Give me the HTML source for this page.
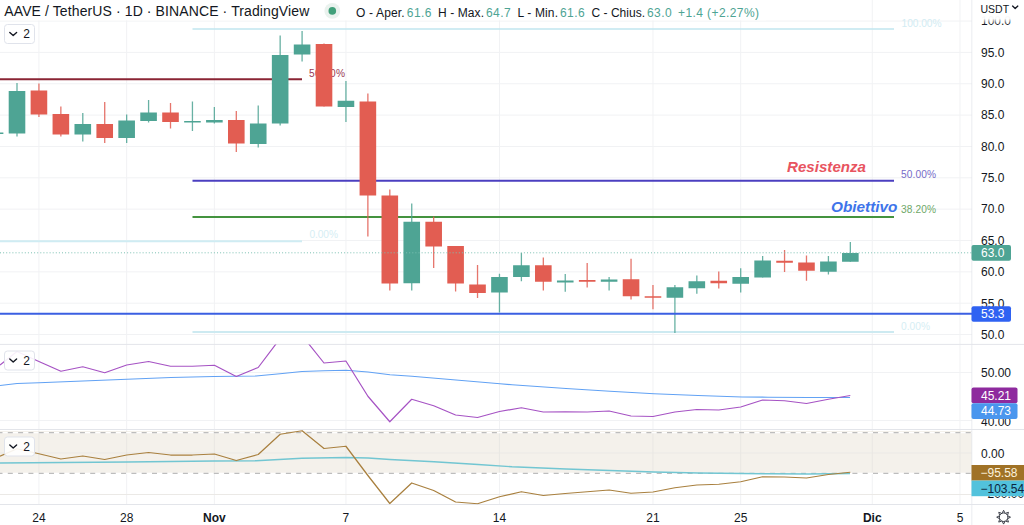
<!DOCTYPE html>
<html lang="it"><head><meta charset="utf-8"><title>AAVE / TetherUS · 1D · BINANCE · TradingView</title>
<style>html,body{margin:0;padding:0;background:#fff;}body{width:1024px;height:525px;overflow:hidden;font-family:"Liberation Sans", Arial, sans-serif;}svg{display:block;position:absolute;left:0;top:0;}text{font-family:"Liberation Sans", Arial, sans-serif;}</style></head><body>
<svg width="1024" height="525" viewBox="0 0 1024 525">
<defs>
<clipPath id="cpMain"><rect x="0" y="0" width="972" height="344"/></clipPath>
<clipPath id="cpRsi"><rect x="0" y="344.5" width="972" height="85"/></clipPath>
<clipPath id="cpCci"><rect x="0" y="430" width="972" height="74.5"/></clipPath>
<linearGradient id="fade" x1="0" y1="0" x2="0" y2="1"><stop offset="0" stop-color="#fff" stop-opacity="1"/><stop offset="0.45" stop-color="#fff" stop-opacity="0.95"/><stop offset="1" stop-color="#fff" stop-opacity="0"/></linearGradient>
</defs>
<rect width="1024" height="525" fill="#ffffff"/>
<line x1="38.93" y1="0" x2="38.93" y2="504.5" stroke="#f1f2f4" stroke-width="1"/>
<line x1="126.65" y1="0" x2="126.65" y2="504.5" stroke="#f1f2f4" stroke-width="1"/>
<line x1="214.37" y1="0" x2="214.37" y2="504.5" stroke="#f1f2f4" stroke-width="1"/>
<line x1="345.95" y1="0" x2="345.95" y2="504.5" stroke="#f1f2f4" stroke-width="1"/>
<line x1="499.46" y1="0" x2="499.46" y2="504.5" stroke="#f1f2f4" stroke-width="1"/>
<line x1="652.97" y1="0" x2="652.97" y2="504.5" stroke="#f1f2f4" stroke-width="1"/>
<line x1="740.69" y1="0" x2="740.69" y2="504.5" stroke="#f1f2f4" stroke-width="1"/>
<line x1="872.27" y1="0" x2="872.27" y2="504.5" stroke="#f1f2f4" stroke-width="1"/>
<line x1="959.99" y1="0" x2="959.99" y2="504.5" stroke="#f1f2f4" stroke-width="1"/>
<line x1="0" y1="21.05" x2="972" y2="21.05" stroke="#f1f2f4" stroke-width="1"/>
<line x1="0" y1="52.40" x2="972" y2="52.40" stroke="#f1f2f4" stroke-width="1"/>
<line x1="0" y1="83.75" x2="972" y2="83.75" stroke="#f1f2f4" stroke-width="1"/>
<line x1="0" y1="115.10" x2="972" y2="115.10" stroke="#f1f2f4" stroke-width="1"/>
<line x1="0" y1="146.45" x2="972" y2="146.45" stroke="#f1f2f4" stroke-width="1"/>
<line x1="0" y1="177.80" x2="972" y2="177.80" stroke="#f1f2f4" stroke-width="1"/>
<line x1="0" y1="209.15" x2="972" y2="209.15" stroke="#f1f2f4" stroke-width="1"/>
<line x1="0" y1="240.50" x2="972" y2="240.50" stroke="#f1f2f4" stroke-width="1"/>
<line x1="0" y1="271.85" x2="972" y2="271.85" stroke="#f1f2f4" stroke-width="1"/>
<line x1="0" y1="303.20" x2="972" y2="303.20" stroke="#f1f2f4" stroke-width="1"/>
<line x1="0" y1="334.55" x2="972" y2="334.55" stroke="#f1f2f4" stroke-width="1"/>
<line x1="0" y1="372.5" x2="972" y2="372.5" stroke="#f1f2f4" stroke-width="1"/>
<line x1="0" y1="420.5" x2="972" y2="420.5" stroke="#f1f2f4" stroke-width="1"/>
<rect x="0" y="431" width="972" height="43" fill="#f4f1eb"/>
<line x1="0" y1="453" x2="972" y2="453" stroke="#ebe9e6" stroke-width="1"/>
<line x1="0" y1="494.5" x2="972" y2="494.5" stroke="#ebe9e6" stroke-width="1"/>
<line x1="38.93" y1="431" x2="38.93" y2="474" stroke="#e9e7e3" stroke-width="1"/>
<line x1="126.65" y1="431" x2="126.65" y2="474" stroke="#e9e7e3" stroke-width="1"/>
<line x1="214.37" y1="431" x2="214.37" y2="474" stroke="#e9e7e3" stroke-width="1"/>
<line x1="345.95" y1="431" x2="345.95" y2="474" stroke="#e9e7e3" stroke-width="1"/>
<line x1="499.46" y1="431" x2="499.46" y2="474" stroke="#e9e7e3" stroke-width="1"/>
<line x1="652.97" y1="431" x2="652.97" y2="474" stroke="#e9e7e3" stroke-width="1"/>
<line x1="740.69" y1="431" x2="740.69" y2="474" stroke="#e9e7e3" stroke-width="1"/>
<line x1="872.27" y1="431" x2="872.27" y2="474" stroke="#e9e7e3" stroke-width="1"/>
<line x1="959.99" y1="431" x2="959.99" y2="474" stroke="#e9e7e3" stroke-width="1"/>
<line x1="0" y1="432.6" x2="972" y2="432.6" stroke="#fff" stroke-width="1.2"/>
<line x1="0" y1="473.4" x2="972" y2="473.4" stroke="#fff" stroke-width="1.2"/>
<line x1="-2.5" y1="432.6" x2="972" y2="432.6" stroke="#bdbdbd" stroke-width="1.1" stroke-dasharray="5,5.3"/>
<line x1="-2.5" y1="473.4" x2="972" y2="473.4" stroke="#bdbdbd" stroke-width="1.1" stroke-dasharray="5,5.3"/>
<line x1="0" y1="344.4" x2="1024" y2="344.4" stroke="#e3e5ea" stroke-width="1"/>
<line x1="0" y1="429.5" x2="1024" y2="429.5" stroke="#e3e5ea" stroke-width="1"/>
<line x1="0" y1="504.5" x2="1024" y2="504.5" stroke="#e3e5ea" stroke-width="1"/>
<line x1="972" y1="0" x2="972" y2="525" stroke="#e3e5ea" stroke-width="1"/>
<g clip-path="url(#cpMain)">
<line x1="192.5" y1="29" x2="894" y2="29" stroke="#c0e6ef" stroke-width="1.7"/>
<line x1="0" y1="79.2" x2="302" y2="79.2" stroke="#8a2434" stroke-width="2"/>
<line x1="0" y1="241.2" x2="302" y2="241.2" stroke="#cfecf3" stroke-width="2"/>
<line x1="192.5" y1="332" x2="894" y2="332" stroke="#cdeaf1" stroke-width="2"/>
<line x1="192.5" y1="180.8" x2="894" y2="180.8" stroke="#4b3fc0" stroke-width="2"/>
<line x1="192.5" y1="217" x2="894" y2="217" stroke="#44933f" stroke-width="2"/>
<text x="309" y="76.5" font-size="10.2" fill="#9a3a55" textLength="36" lengthAdjust="spacing">50.00%</text>
<text x="309.5" y="238.2" font-size="10.2" fill="#d6eef4" textLength="28.5" lengthAdjust="spacing">0.00%</text>
<text x="901.5" y="26.7" font-size="10.2" fill="#d2ecf3" textLength="40" lengthAdjust="spacing">100.00%</text>
<text x="901" y="178.1" font-size="10.2" fill="#766bc8" textLength="35" lengthAdjust="spacing">50.00%</text>
<text x="901" y="213.4" font-size="10.2" fill="#6fa868" textLength="35" lengthAdjust="spacing">38.20%</text>
<text x="901" y="329.8" font-size="10.2" fill="#d6eef4" textLength="29" lengthAdjust="spacing">0.00%</text>
<line x1="-4.93" y1="132.5" x2="-4.93" y2="134" stroke="#4ea494" stroke-width="1.3" opacity="0.85"/>
<rect x="-13.23" y="132.5" width="16.6" height="1.50" fill="#4ea494"/>
<line x1="17.00" y1="83" x2="17.00" y2="136.5" stroke="#4ea494" stroke-width="1.3" opacity="0.85"/>
<rect x="8.70" y="91" width="16.6" height="42.50" fill="#4ea494"/>
<line x1="38.93" y1="83.5" x2="38.93" y2="117" stroke="#e25d52" stroke-width="1.3" opacity="0.85"/>
<rect x="30.63" y="90.5" width="16.6" height="24.00" fill="#e25d52"/>
<line x1="60.86" y1="106.5" x2="60.86" y2="136.5" stroke="#e25d52" stroke-width="1.3" opacity="0.85"/>
<rect x="52.56" y="114" width="16.6" height="20.50" fill="#e25d52"/>
<line x1="82.79" y1="113" x2="82.79" y2="141.5" stroke="#4ea494" stroke-width="1.3" opacity="0.85"/>
<rect x="74.49" y="124" width="16.6" height="10.50" fill="#4ea494"/>
<line x1="104.72" y1="102" x2="104.72" y2="143" stroke="#e25d52" stroke-width="1.3" opacity="0.85"/>
<rect x="96.42" y="124" width="16.6" height="14.00" fill="#e25d52"/>
<line x1="126.65" y1="114.5" x2="126.65" y2="143" stroke="#4ea494" stroke-width="1.3" opacity="0.85"/>
<rect x="118.35" y="120.5" width="16.6" height="17.50" fill="#4ea494"/>
<line x1="148.58" y1="100" x2="148.58" y2="122.5" stroke="#4ea494" stroke-width="1.3" opacity="0.85"/>
<rect x="140.28" y="112.5" width="16.6" height="8.50" fill="#4ea494"/>
<line x1="170.51" y1="103" x2="170.51" y2="128.5" stroke="#e25d52" stroke-width="1.3" opacity="0.85"/>
<rect x="162.21" y="112.5" width="16.6" height="9.50" fill="#e25d52"/>
<line x1="192.44" y1="101.5" x2="192.44" y2="131" stroke="#4ea494" stroke-width="1.3" opacity="0.85"/>
<rect x="184.14" y="121" width="16.6" height="1.50" fill="#4ea494"/>
<line x1="214.37" y1="107" x2="214.37" y2="123.5" stroke="#4ea494" stroke-width="1.3" opacity="0.85"/>
<rect x="206.07" y="120" width="16.6" height="2.50" fill="#4ea494"/>
<line x1="236.30" y1="111" x2="236.30" y2="152" stroke="#e25d52" stroke-width="1.3" opacity="0.85"/>
<rect x="228.00" y="120" width="16.6" height="23.50" fill="#e25d52"/>
<line x1="258.23" y1="105.5" x2="258.23" y2="147.5" stroke="#4ea494" stroke-width="1.3" opacity="0.85"/>
<rect x="249.93" y="123.5" width="16.6" height="20.50" fill="#4ea494"/>
<line x1="280.16" y1="35.5" x2="280.16" y2="125.5" stroke="#4ea494" stroke-width="1.3" opacity="0.85"/>
<rect x="271.86" y="55" width="16.6" height="68.50" fill="#4ea494"/>
<line x1="302.09" y1="31" x2="302.09" y2="61.5" stroke="#4ea494" stroke-width="1.3" opacity="0.85"/>
<rect x="293.79" y="44.5" width="16.6" height="10.00" fill="#4ea494"/>
<line x1="324.02" y1="43.5" x2="324.02" y2="106.5" stroke="#e25d52" stroke-width="1.3" opacity="0.85"/>
<rect x="315.72" y="44" width="16.6" height="62.50" fill="#e25d52"/>
<line x1="345.95" y1="81" x2="345.95" y2="122" stroke="#4ea494" stroke-width="1.3" opacity="0.85"/>
<rect x="337.65" y="100.75" width="16.6" height="6.25" fill="#4ea494"/>
<line x1="367.88" y1="93.5" x2="367.88" y2="236.5" stroke="#e25d52" stroke-width="1.3" opacity="0.85"/>
<rect x="359.58" y="101.5" width="16.6" height="94.00" fill="#e25d52"/>
<line x1="389.81" y1="189.5" x2="389.81" y2="290.5" stroke="#e25d52" stroke-width="1.3" opacity="0.85"/>
<rect x="381.51" y="195.5" width="16.6" height="88.00" fill="#e25d52"/>
<line x1="411.74" y1="203.5" x2="411.74" y2="290.5" stroke="#4ea494" stroke-width="1.3" opacity="0.85"/>
<rect x="403.44" y="221.75" width="16.6" height="61.50" fill="#4ea494"/>
<line x1="433.67" y1="216.5" x2="433.67" y2="268" stroke="#e25d52" stroke-width="1.3" opacity="0.85"/>
<rect x="425.37" y="221.75" width="16.6" height="24.75" fill="#e25d52"/>
<line x1="455.60" y1="246" x2="455.60" y2="291.5" stroke="#e25d52" stroke-width="1.3" opacity="0.85"/>
<rect x="447.30" y="246" width="16.6" height="37.50" fill="#e25d52"/>
<line x1="477.53" y1="265" x2="477.53" y2="298" stroke="#e25d52" stroke-width="1.3" opacity="0.85"/>
<rect x="469.23" y="284.5" width="16.6" height="8.50" fill="#e25d52"/>
<line x1="499.46" y1="273.75" x2="499.46" y2="312.5" stroke="#4ea494" stroke-width="1.3" opacity="0.85"/>
<rect x="491.16" y="277" width="16.6" height="15.50" fill="#4ea494"/>
<line x1="521.39" y1="253" x2="521.39" y2="281.25" stroke="#4ea494" stroke-width="1.3" opacity="0.85"/>
<rect x="513.09" y="265.25" width="16.6" height="11.75" fill="#4ea494"/>
<line x1="543.32" y1="257.5" x2="543.32" y2="290.5" stroke="#e25d52" stroke-width="1.3" opacity="0.85"/>
<rect x="535.02" y="265.25" width="16.6" height="16.50" fill="#e25d52"/>
<line x1="565.25" y1="274" x2="565.25" y2="291.75" stroke="#4ea494" stroke-width="1.3" opacity="0.85"/>
<rect x="556.95" y="280.5" width="16.6" height="2.00" fill="#4ea494"/>
<line x1="587.18" y1="263" x2="587.18" y2="287.5" stroke="#e25d52" stroke-width="1.3" opacity="0.85"/>
<rect x="578.88" y="280" width="16.6" height="1.75" fill="#e25d52"/>
<line x1="609.11" y1="277" x2="609.11" y2="290.5" stroke="#4ea494" stroke-width="1.3" opacity="0.85"/>
<rect x="600.81" y="279.5" width="16.6" height="2.25" fill="#4ea494"/>
<line x1="631.04" y1="258.75" x2="631.04" y2="299.5" stroke="#e25d52" stroke-width="1.3" opacity="0.85"/>
<rect x="622.74" y="279.25" width="16.6" height="17.00" fill="#e25d52"/>
<line x1="652.97" y1="285" x2="652.97" y2="309.25" stroke="#e25d52" stroke-width="1.3" opacity="0.85"/>
<rect x="644.67" y="296.25" width="16.6" height="1.50" fill="#e25d52"/>
<line x1="674.90" y1="285" x2="674.90" y2="333" stroke="#4ea494" stroke-width="1.3" opacity="0.85"/>
<rect x="666.60" y="287.25" width="16.6" height="10.50" fill="#4ea494"/>
<line x1="696.83" y1="275.5" x2="696.83" y2="293.75" stroke="#4ea494" stroke-width="1.3" opacity="0.85"/>
<rect x="688.53" y="281.25" width="16.6" height="7.00" fill="#4ea494"/>
<line x1="718.76" y1="271.5" x2="718.76" y2="288.5" stroke="#e25d52" stroke-width="1.3" opacity="0.85"/>
<rect x="710.46" y="280.75" width="16.6" height="2.50" fill="#e25d52"/>
<line x1="740.69" y1="268.25" x2="740.69" y2="292.5" stroke="#4ea494" stroke-width="1.3" opacity="0.85"/>
<rect x="732.39" y="277" width="16.6" height="6.75" fill="#4ea494"/>
<line x1="762.62" y1="256" x2="762.62" y2="277.5" stroke="#4ea494" stroke-width="1.3" opacity="0.85"/>
<rect x="754.32" y="260.5" width="16.6" height="17.00" fill="#4ea494"/>
<line x1="784.55" y1="250" x2="784.55" y2="272" stroke="#e25d52" stroke-width="1.3" opacity="0.85"/>
<rect x="776.25" y="260.75" width="16.6" height="2.00" fill="#e25d52"/>
<line x1="806.48" y1="255.5" x2="806.48" y2="280.75" stroke="#e25d52" stroke-width="1.3" opacity="0.85"/>
<rect x="798.18" y="262.5" width="16.6" height="8.25" fill="#e25d52"/>
<line x1="828.41" y1="256" x2="828.41" y2="274.5" stroke="#4ea494" stroke-width="1.3" opacity="0.85"/>
<rect x="820.11" y="261.5" width="16.6" height="10.25" fill="#4ea494"/>
<line x1="850.34" y1="242" x2="850.34" y2="261.75" stroke="#4ea494" stroke-width="1.3" opacity="0.85"/>
<rect x="842.04" y="253" width="16.6" height="8.75" fill="#4ea494"/>
<line x1="0" y1="252.8" x2="972" y2="252.8" stroke="#7cc0b3" stroke-width="1" stroke-dasharray="1,2.1"/>
<line x1="0" y1="313.8" x2="972" y2="313.8" stroke="#3b5fe2" stroke-width="2"/>
<text x="787" y="171.6" font-size="15" font-weight="bold" font-style="italic" fill="#e8545f" textLength="79" lengthAdjust="spacingAndGlyphs">Resistenza</text>
<text x="831" y="211.6" font-size="15" font-weight="bold" font-style="italic" fill="#3e74ea" textLength="66.5" lengthAdjust="spacingAndGlyphs">Obiettivo</text>
</g>
<g clip-path="url(#cpRsi)">
<polyline points="0.0,385.50 17.0,383.50 39.0,382.75 83.0,381.00 127.0,379.25 171.0,377.50 214.0,376.50 256.0,376.00 280.0,373.75 302.0,371.50 324.0,370.75 346.0,370.25 368.0,372.00 390.0,374.75 412.0,376.25 456.0,380.00 500.0,383.75 512.0,384.75 566.0,388.50 610.0,391.25 654.0,393.75 698.0,395.50 742.0,397.00 768.0,397.25 808.0,397.50 850.0,397.50" fill="none" stroke="#62a2f4" stroke-width="1.2" stroke-linejoin="round"/>
<polyline points="0.0,365.00 17.0,351.50 38.9,361.50 60.9,371.25 82.8,366.75 104.7,372.75 126.7,365.00 148.6,361.50 170.5,366.25 192.4,366.25 214.4,365.25 236.3,376.50 258.2,367.50 280.2,338.40 302.1,335.60 324.0,363.00 345.9,361.00 367.9,396.25 389.8,421.75 411.7,399.25 433.7,405.75 455.6,415.00 477.5,417.50 499.5,411.50 521.4,407.75 543.3,412.00 565.2,411.75 587.2,412.00 609.1,411.00 631.0,416.00 653.0,416.50 674.9,412.00 696.8,409.50 718.8,410.00 740.7,407.00 762.6,400.00 784.5,400.75 806.5,403.50 828.4,399.25 850.3,395.50" fill="none" stroke="#a653c4" stroke-width="1.2" stroke-linejoin="round"/>
</g>
<g clip-path="url(#cpCci)">
<polyline points="0.0,463.00 127.0,462.00 214.0,461.00 256.0,460.75 302.0,458.25 346.0,457.50 368.0,458.00 390.0,459.50 434.0,461.75 478.0,464.50 512.0,466.75 566.0,469.00 610.0,470.50 654.0,472.00 698.0,473.00 742.0,473.50 768.0,473.75 808.0,474.00 850.0,473.50" fill="none" stroke="#72c6d2" stroke-width="1.4" stroke-linejoin="round"/>
<polyline points="0.0,456.25 17.0,448.75 38.9,453.75 60.9,459.00 82.8,456.00 104.7,459.50 126.7,455.00 148.6,452.50 170.5,455.00 192.4,455.00 214.4,454.00 236.3,460.50 258.2,454.50 280.2,434.25 302.1,430.75 324.0,448.50 345.9,446.25 367.9,475.50 389.8,503.50 411.7,483.00 433.7,490.50 455.6,502.00 477.5,503.75 499.5,496.75 521.4,491.75 543.3,495.50 565.2,493.50 587.2,491.75 609.1,490.00 631.0,493.25 653.0,492.00 674.9,487.75 696.8,485.00 718.8,484.25 740.7,481.75 762.6,476.75 784.5,477.00 806.5,478.00 828.4,474.50 850.3,472.25" fill="none" stroke="#a9803f" stroke-width="1.25" stroke-linejoin="round"/>
</g>
<rect x="972.5" y="0" width="51.5" height="525" fill="#fff"/>
<line x1="972" y1="344.4" x2="1024" y2="344.4" stroke="#e3e5ea" stroke-width="1"/>
<line x1="972" y1="429.5" x2="1024" y2="429.5" stroke="#e3e5ea" stroke-width="1"/>
<line x1="972" y1="504.5" x2="1024" y2="504.5" stroke="#e3e5ea" stroke-width="1"/>
<text x="981" y="25.35" font-size="12" fill="#131722" >100.0</text>
<text x="981" y="56.70" font-size="12" fill="#131722" >95.0</text>
<text x="981" y="88.05" font-size="12" fill="#131722" >90.0</text>
<text x="981" y="119.40" font-size="12" fill="#131722" >85.0</text>
<text x="981" y="150.75" font-size="12" fill="#131722" >80.0</text>
<text x="981" y="182.10" font-size="12" fill="#131722" >75.0</text>
<text x="981" y="213.45" font-size="12" fill="#131722" >70.0</text>
<text x="981" y="244.80" font-size="12" fill="#131722" >65.0</text>
<text x="981" y="276.15" font-size="12" fill="#131722" >60.0</text>
<text x="981" y="307.50" font-size="12" fill="#131722" >55.0</text>
<text x="981" y="338.85" font-size="12" fill="#131722" >50.0</text>
<rect x="973" y="0" width="51" height="14" fill="#fff"/>
<rect x="973" y="14" width="51" height="10" fill="url(#fade)"/>
<text x="980.5" y="12.6" font-size="11" fill="#131722" textLength="28.6" lengthAdjust="spacingAndGlyphs">USDT</text>
<path d="M1012.6 6.1 L1015.2 8.4 L1017.8 6.1" fill="none" stroke="#131722" stroke-width="1.4" stroke-linecap="round" stroke-linejoin="round"/>
<rect x="971.5" y="245" width="39.5" height="15.8" rx="2" fill="#4ea494"/>
<text x="981" y="257.20" font-size="12" fill="#fff" >63.0</text>
<rect x="971.5" y="306.2" width="39.5" height="15.5" rx="2" fill="#2f62f2"/>
<text x="981" y="318.20" font-size="12" fill="#fff" >53.3</text>
<text x="981" y="377.10" font-size="12" fill="#131722" >50.00</text>
<text x="981" y="425.60" font-size="12" fill="#131722" >40.00</text>
<rect x="971.5" y="387.5" width="46" height="15.7" rx="2" fill="#8e2a9e"/>
<text x="981" y="399.60" font-size="12" fill="#fff" >45.21</text>
<rect x="971.5" y="403.2" width="46" height="15.8" rx="2" fill="#4a96ee"/>
<text x="981" y="415.40" font-size="12" fill="#fff" >44.73</text>
<text x="981" y="457.70" font-size="12" fill="#131722" >0.00</text>
<text x="980.5" y="498.30" font-size="12" fill="#131722" >−200.00</text>
<rect x="971.5" y="465" width="52.5" height="15.6" fill="#a07226"/>
<text x="980.5" y="477.10" font-size="12" fill="#fbf1dc" >−95.58</text>
<rect x="971.5" y="480.6" width="52.5" height="15.6" fill="#52c2dc"/>
<text x="980.5" y="492.70" font-size="12" fill="#0b2540" >−103.54</text>
<text x="38.93" y="522.3" font-size="12" fill="#131722" text-anchor="middle">24</text>
<text x="126.65" y="522.3" font-size="12" fill="#131722" text-anchor="middle">28</text>
<text x="214.37" y="522.3" font-size="12" fill="#131722" text-anchor="middle" font-weight="bold">Nov</text>
<text x="345.95" y="522.3" font-size="12" fill="#131722" text-anchor="middle">7</text>
<text x="499.46" y="522.3" font-size="12" fill="#131722" text-anchor="middle">14</text>
<text x="652.97" y="522.3" font-size="12" fill="#131722" text-anchor="middle">21</text>
<text x="740.69" y="522.3" font-size="12" fill="#131722" text-anchor="middle">25</text>
<text x="872.27" y="522.3" font-size="12" fill="#131722" text-anchor="middle" font-weight="bold">Dic</text>
<text x="959.99" y="522.3" font-size="12" fill="#131722" text-anchor="middle">5</text>
<circle cx="1003.6" cy="517.2" r="4.3" fill="none" stroke="#2a2e39" stroke-width="1.0"/>
<path d="M1008.02 515.93 L1010.50 517.20 L1008.02 518.47 M1007.62 519.43 L1008.48 522.08 L1005.83 521.22 M1004.87 521.62 L1003.60 524.10 L1002.33 521.62 M1001.37 521.22 L998.72 522.08 L999.58 519.43 M999.18 518.47 L996.70 517.20 L999.18 515.93 M999.58 514.97 L998.72 512.32 L1001.37 513.18 M1002.33 512.78 L1003.60 510.30 L1004.87 512.78 M1005.83 513.18 L1008.48 512.32 L1007.62 514.97" fill="none" stroke="#2a2e39" stroke-width="0.9" stroke-linejoin="round"/>
<rect x="0" y="0" width="766" height="20.3" fill="#fff"/>
<text x="4.3" y="16.3" font-size="14" fill="#131722" textLength="305" lengthAdjust="spacing">AAVE / TetherUS · 1D · BINANCE · TradingView</text>
<circle cx="332.3" cy="10.9" r="7.9" fill="#eaf2ee"/>
<circle cx="332.3" cy="10.9" r="3.8" fill="#41a07a"/>
<text x="356" y="17.1" font-size="12" fill="#131722" textLength="48.7" lengthAdjust="spacing">O - Aper.</text>
<text x="406.8" y="17.1" font-size="12" fill="#4ea494" textLength="24.7" lengthAdjust="spacing">61.6</text>
<text x="438" y="17.1" font-size="12" fill="#131722" textLength="46" lengthAdjust="spacing">H - Max.</text>
<text x="486" y="17.1" font-size="12" fill="#4ea494" textLength="24.7" lengthAdjust="spacing">64.7</text>
<text x="517.5" y="17.1" font-size="12" fill="#131722" textLength="40.5" lengthAdjust="spacing">L - Min.</text>
<text x="560" y="17.1" font-size="12" fill="#4ea494" textLength="24.7" lengthAdjust="spacing">61.6</text>
<text x="591.5" y="17.1" font-size="12" fill="#131722" textLength="53.5" lengthAdjust="spacing">C - Chius.</text>
<text x="647" y="17.1" font-size="12" fill="#4ea494" textLength="24.7" lengthAdjust="spacing">63.0</text>
<text x="678" y="17.1" font-size="12" fill="#4ea494" textLength="81" lengthAdjust="spacing">+1.4 (+2.27%)</text>
<rect x="4.5" y="24.5" width="30" height="19" rx="3" fill="#fff" fill-opacity="0.9" stroke="#e0e3eb" stroke-width="1"/>
<path d="M9.8 32.4 L13.2 35.4 L16.6 32.4" fill="none" stroke="#131722" stroke-width="1.4" stroke-linecap="round" stroke-linejoin="round"/>
<text x="23.3" y="38.1" font-size="12" fill="#131722">2</text>
<rect x="4.5" y="351" width="30" height="19" rx="3" fill="#fff" fill-opacity="0.9" stroke="#e0e3eb" stroke-width="1"/>
<path d="M9.8 358.9 L13.2 361.9 L16.6 358.9" fill="none" stroke="#131722" stroke-width="1.4" stroke-linecap="round" stroke-linejoin="round"/>
<text x="23.3" y="364.6" font-size="12" fill="#131722">2</text>
<rect x="4.5" y="437" width="30" height="19" rx="3" fill="#fff" fill-opacity="0.9" stroke="#e0e3eb" stroke-width="1"/>
<path d="M9.8 444.9 L13.2 447.9 L16.6 444.9" fill="none" stroke="#131722" stroke-width="1.4" stroke-linecap="round" stroke-linejoin="round"/>
<text x="23.3" y="450.6" font-size="12" fill="#131722">2</text>
</svg></body></html>
